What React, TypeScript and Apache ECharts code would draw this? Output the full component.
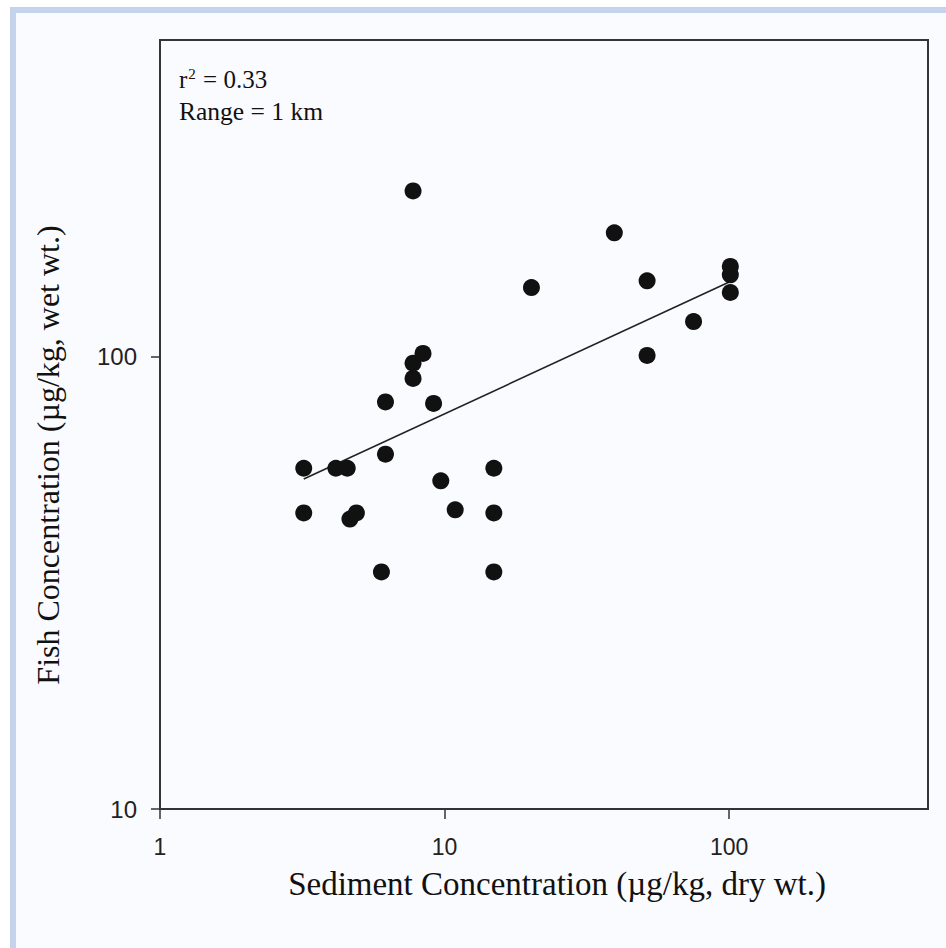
import React, { useEffect, useRef } from "react";
import * as echarts from "echarts";

const sedimentX = [3.2, 3.2, 4.15, 4.55, 4.65, 4.9, 6.0, 6.2, 6.2, 7.75, 7.75, 7.75, 8.4, 9.15, 9.7, 10.9, 14.9, 14.9, 14.9, 20.2, 39.5, 51.5, 51.5, 75, 101, 101, 101];
const fishY = [56.6, 45.1, 56.6, 56.6, 43.7, 45.1, 33.4, 60.8, 79.3, 232, 96.6, 89.4, 101.5, 78.7, 53.1, 45.8, 56.6, 45.1, 33.4, 141.9, 187.5, 146.9, 100.5, 119.4, 158, 151.4, 138.4];
const fitX = [3.2, 101];
const fitY = [53.6, 146.3];
const xTicks = [1, 10, 100];
const yTicks = [10, 100];
const annotationR2 = "0.33";
const annotationRange = "Range = 1 km";
const xTitle = "Sediment Concentration (\u00b5g/kg, dry wt.)";
const yTitle = "Fish Concentration (\u00b5g/kg, wet wt.)";

export default function App() {
  const ref = useRef<HTMLDivElement>(null);
  useEffect(() => {
    if (!ref.current) return;
    const chart = echarts.init(ref.current, null, { renderer: "svg" });
    const serif = "'Liberation Serif', 'Times New Roman', serif";
    const sans = "'Liberation Sans', Arial, sans-serif";
    chart.setOption({
      animation: false,
      backgroundColor: "#ffffff",
      graphic: [
        { type: "rect", z: -10, shape: { x: 10, y: 7, width: 936, height: 941 }, style: { fill: "#c6d3ed" } },
        { type: "rect", z: -9, shape: { x: 16, y: 13, width: 930, height: 935 }, style: { fill: "#fafbfe" } },
        {
          type: "text",
          z: 10,
          left: 179,
          top: 66,
          style: {
            text: "r{sup|2} = " + annotationR2,
            font: "25px " + serif,
            fill: "#111",
            rich: {
              sup: { fontSize: 15, fontFamily: serif, verticalAlign: "top", padding: [0, 1, 12, 1], fill: "#111" },
            },
          },
        },
        {
          type: "text",
          z: 10,
          left: 179,
          top: 98,
          style: { text: annotationRange, font: "25.5px " + serif, fill: "#111" },
        },
        {
          type: "text",
          z: 10,
          x: 557,
          y: 884,
          style: { text: xTitle, font: "33px " + serif, fill: "#111", align: "center", verticalAlign: "middle" },
        },
        {
          type: "text",
          z: 10,
          x: 48,
          y: 455,
          rotation: Math.PI / 2,
          style: { text: yTitle, font: "32px " + serif, fill: "#111", align: "center", verticalAlign: "middle" },
        },
      ],
      grid: {
        left: 160,
        top: 40,
        width: 768,
        height: 769,
        show: true,
        borderColor: "#333",
        borderWidth: 2,
        backgroundColor: "transparent",
      },
      xAxis: {
        type: "log",
        logBase: 10,
        min: 1,
        max: 500,
        axisLine: { show: true, lineStyle: { color: "#333", width: 2 } },
        axisTick: { show: true, inside: false, length: 10, customValues: xTicks, lineStyle: { color: "#333", width: 1.5 } },
        axisLabel: {
          margin: 26,
          fontFamily: sans,
          fontSize: 23,
          color: "#222",
          customValues: xTicks,
          formatter: (v: number) => String(Math.round(v)),
        },
        splitLine: { show: false },
        minorTick: { show: false },
      },
      yAxis: {
        type: "log",
        logBase: 10,
        min: 10,
        max: 500,
        axisLine: { show: true, lineStyle: { color: "#333", width: 2 } },
        axisTick: { show: true, inside: false, length: 9, customValues: yTicks, lineStyle: { color: "#333", width: 1.5 } },
        axisLabel: {
          margin: 23,
          fontFamily: sans,
          fontSize: 24,
          color: "#222",
          customValues: yTicks,
          formatter: (v: number) => String(Math.round(v)),
        },
        splitLine: { show: false },
      },
      series: [
        {
          type: "line",
          data: fitX.map((x, i) => [x, fitY[i]]),
          symbol: "none",
          lineStyle: { color: "#222", width: 1.6 },
          z: 2,
        },
        {
          type: "scatter",
          data: sedimentX.map((x, i) => [x, fishY[i]]),
          symbol: "circle",
          symbolSize: 17,
          itemStyle: { color: "#111", opacity: 1 },
          z: 3,
        },
      ],
    });
    return () => chart.dispose();
  }, []);
  return <div ref={ref} style={{ position: "absolute", left: 0, top: 0, width: 946, height: 948 }} />;
}
